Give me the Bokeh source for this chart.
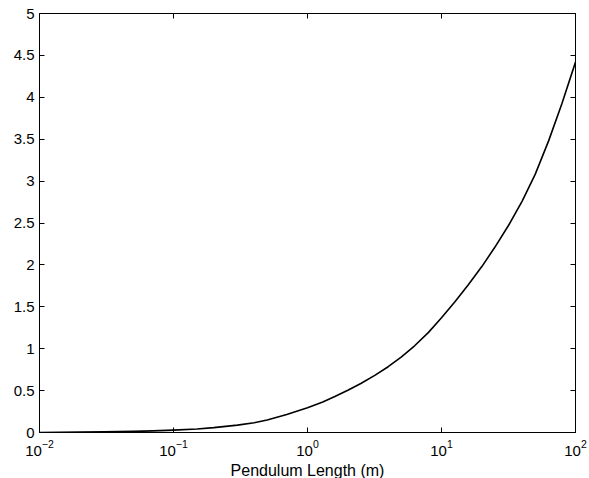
from bokeh.plotting import figure
from bokeh.models import LogAxis, LinearAxis, FixedTicker, Range1d
from bokeh.embed import file_html
from bokeh.resources import INLINE

# Data
length_m = [0.01, 0.02, 0.03, 0.05, 0.07, 0.1, 0.15, 0.2, 0.3, 0.4, 0.5, 0.7,
            1.0, 1.3, 1.6, 2.0, 2.5, 3.2, 4.0, 5.0, 6.3, 8.0, 10, 12.6, 15.8,
            20, 25, 31.6, 40, 50, 63, 79, 100]
value = [0.0, 0.004, 0.007, 0.013, 0.019, 0.028, 0.042, 0.058, 0.088, 0.117,
         0.15, 0.215, 0.295, 0.365, 0.43, 0.505, 0.585, 0.685, 0.785, 0.90, 1.035,
         1.195, 1.37, 1.56, 1.76, 1.98, 2.21, 2.47, 2.76, 3.08, 3.48, 3.92, 4.42]

x_ticks = [0.01, 0.1, 1, 10, 100]
y_ticks = [0, 0.5, 1, 1.5, 2, 2.5, 3, 3.5, 4, 4.5, 5]
y_tick_labels = ["0", "0.5", "1", "1.5", "2", "2.5", "3", "3.5", "4", "4.5", "5"]
x_label = "Pendulum Length (m)"

FONT = "Liberation Sans"

p = figure(x_axis_type="log", x_range=Range1d(0.01, 100), y_range=Range1d(0, 5),
           frame_width=536, frame_height=419,
           min_border_left=39, min_border_right=12, min_border_top=13, min_border_bottom=44,
           output_backend="svg", toolbar_location=None,
           background_fill_color="white", border_fill_color="white")
p.grid.visible = False
p.outline_line_color = "black"
p.outline_line_width = 1

p.line(length_m, value, line_color="black", line_width=1.6, line_join="round")

def style(ax, labels=True):
    ax.axis_line_color = "black"
    ax.major_tick_in = 5
    ax.major_tick_out = 0
    ax.minor_tick_line_color = None
    ax.major_tick_line_color = "black"
    ax.major_label_text_font = FONT
    if labels:
        ax.major_label_text_color = "black"
        ax.major_label_text_font_size = "15px"
    else:
        ax.major_label_text_color = None
        ax.major_label_text_font_size = "1px"
        ax.major_label_standoff = 0

xa = p.xaxis[0]
xa.ticker = FixedTicker(ticks=x_ticks)
style(xa)
xa.major_label_standoff = 7
xa.axis_label = x_label
xa.axis_label_text_font = FONT
xa.axis_label_text_font_size = "16px"
xa.axis_label_text_font_style = "normal"
xa.axis_label_text_color = "black"
xa.axis_label_standoff = 3

ya = p.yaxis[0]
ya.ticker = FixedTicker(ticks=y_ticks)
ya.major_label_overrides = {t: l for t, l in zip(y_ticks, y_tick_labels)}
style(ya)
ya.major_label_standoff = 5

top = LogAxis(ticker=FixedTicker(ticks=x_ticks))
style(top, labels=False)
p.add_layout(top, "above")

right = LinearAxis(ticker=FixedTicker(ticks=y_ticks))
style(right, labels=False)
p.add_layout(right, "right")

open("out.html", "w").write(file_html(p, INLINE))
